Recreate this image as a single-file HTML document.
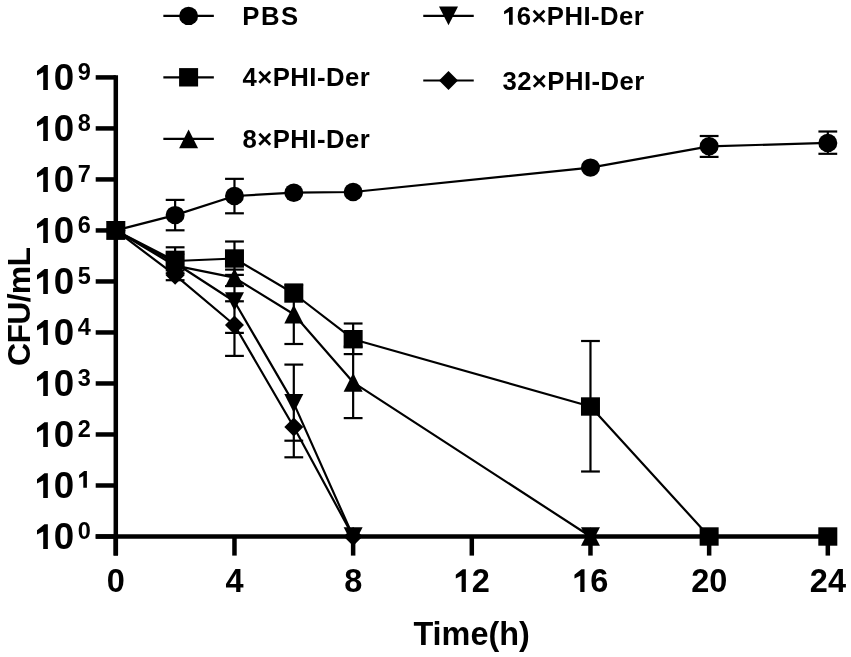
<!DOCTYPE html>
<html><head><meta charset="utf-8"><style>
html,body{margin:0;padding:0;background:#fff;}
svg{display:block;will-change:transform;}
text{font-family:"Liberation Sans",sans-serif;font-weight:bold;}
</style></head><body>
<svg width="851" height="657" viewBox="0 0 851 657">
<rect width="851" height="657" fill="#fff"/>
<g>
<line x1="175.13" y1="199.9" x2="175.13" y2="230.3" stroke="#000" stroke-width="2.2"/>
<line x1="165.73" y1="199.9" x2="184.53" y2="199.9" stroke="#000" stroke-width="2.2"/>
<line x1="165.73" y1="230.3" x2="184.53" y2="230.3" stroke="#000" stroke-width="2.2"/>
<line x1="234.47" y1="178.85" x2="234.47" y2="213.3" stroke="#000" stroke-width="2.2"/>
<line x1="225.07" y1="178.85" x2="243.87" y2="178.85" stroke="#000" stroke-width="2.2"/>
<line x1="225.07" y1="213.3" x2="243.87" y2="213.3" stroke="#000" stroke-width="2.2"/>
<line x1="709.14" y1="136" x2="709.14" y2="156.9" stroke="#000" stroke-width="2.2"/>
<line x1="699.74" y1="136" x2="718.54" y2="136" stroke="#000" stroke-width="2.2"/>
<line x1="699.74" y1="156.9" x2="718.54" y2="156.9" stroke="#000" stroke-width="2.2"/>
<line x1="827.81" y1="131.5" x2="827.81" y2="153.8" stroke="#000" stroke-width="2.2"/>
<line x1="818.41" y1="131.5" x2="837.21" y2="131.5" stroke="#000" stroke-width="2.2"/>
<line x1="818.41" y1="153.8" x2="837.21" y2="153.8" stroke="#000" stroke-width="2.2"/>
<line x1="175.13" y1="247.3" x2="175.13" y2="280.2" stroke="#000" stroke-width="2.2"/>
<line x1="165.73" y1="247.3" x2="184.53" y2="247.3" stroke="#000" stroke-width="2.2"/>
<line x1="165.73" y1="280.2" x2="184.53" y2="280.2" stroke="#000" stroke-width="2.2"/>
<line x1="165.73" y1="270.4" x2="184.53" y2="270.4" stroke="#000" stroke-width="2.2"/>
<line x1="165.73" y1="273.4" x2="184.53" y2="273.4" stroke="#000" stroke-width="2.2"/>
<line x1="234.47" y1="241.5" x2="234.47" y2="355.9" stroke="#000" stroke-width="2.2"/>
<line x1="225.07" y1="241.5" x2="243.87" y2="241.5" stroke="#000" stroke-width="2.2"/>
<line x1="225.07" y1="355.9" x2="243.87" y2="355.9" stroke="#000" stroke-width="2.2"/>
<line x1="225.07" y1="269.6" x2="243.87" y2="269.6" stroke="#000" stroke-width="2.2"/>
<line x1="225.07" y1="274.9" x2="243.87" y2="274.9" stroke="#000" stroke-width="2.2"/>
<line x1="225.07" y1="286.1" x2="243.87" y2="286.1" stroke="#000" stroke-width="2.2"/>
<line x1="225.07" y1="301.3" x2="243.87" y2="301.3" stroke="#000" stroke-width="2.2"/>
<line x1="225.07" y1="332.9" x2="243.87" y2="332.9" stroke="#000" stroke-width="2.2"/>
<line x1="293.8" y1="284.5" x2="293.8" y2="344" stroke="#000" stroke-width="2.2"/>
<line x1="284.4" y1="284.5" x2="303.2" y2="284.5" stroke="#000" stroke-width="2.2"/>
<line x1="284.4" y1="344" x2="303.2" y2="344" stroke="#000" stroke-width="2.2"/>
<line x1="293.8" y1="364.6" x2="293.8" y2="457.3" stroke="#000" stroke-width="2.2"/>
<line x1="284.4" y1="364.6" x2="303.2" y2="364.6" stroke="#000" stroke-width="2.2"/>
<line x1="284.4" y1="457.3" x2="303.2" y2="457.3" stroke="#000" stroke-width="2.2"/>
<line x1="284.4" y1="440.7" x2="303.2" y2="440.7" stroke="#000" stroke-width="2.2"/>
<line x1="353.14" y1="323.5" x2="353.14" y2="354.1" stroke="#000" stroke-width="2.2"/>
<line x1="343.74" y1="323.5" x2="362.54" y2="323.5" stroke="#000" stroke-width="2.2"/>
<line x1="343.74" y1="354.1" x2="362.54" y2="354.1" stroke="#000" stroke-width="2.2"/>
<line x1="353.14" y1="346.6" x2="353.14" y2="418.1" stroke="#000" stroke-width="2.2"/>
<line x1="343.74" y1="346.6" x2="362.54" y2="346.6" stroke="#000" stroke-width="2.2"/>
<line x1="343.74" y1="418.1" x2="362.54" y2="418.1" stroke="#000" stroke-width="2.2"/>
<line x1="590.47" y1="341" x2="590.47" y2="471.5" stroke="#000" stroke-width="2.2"/>
<line x1="581.07" y1="341" x2="599.87" y2="341" stroke="#000" stroke-width="2.2"/>
<line x1="581.07" y1="471.5" x2="599.87" y2="471.5" stroke="#000" stroke-width="2.2"/>
<polyline points="115.8,230.4 175.13,215.1 234.47,196 293.8,192.7 353.14,192 590.47,167.6 709.14,146.3 827.81,142.9" fill="none" stroke="#000" stroke-width="2.2" stroke-linejoin="round"/>
<polyline points="115.8,230.4 175.13,265.7 234.47,277.7 293.8,314.2 353.14,382.3 590.47,536.5" fill="none" stroke="#000" stroke-width="2.2" stroke-linejoin="round"/>
<polyline points="115.8,230.4 175.13,275.2 234.47,325 293.8,427 353.14,536.5" fill="none" stroke="#000" stroke-width="2.2" stroke-linejoin="round"/>
<polyline points="115.8,230.4 175.13,263 234.47,301.5 293.8,403.4 353.14,536.5 590.47,536.5" fill="none" stroke="#000" stroke-width="2.2" stroke-linejoin="round"/>
<polyline points="115.8,230.4 175.13,261 234.47,258.5 293.8,293.5 353.14,339.2 590.47,406.5 709.14,536.5 827.81,536.5" fill="none" stroke="#000" stroke-width="2.2" stroke-linejoin="round"/>
</g>
<path d="M115.8 75.16V555.6" stroke="#000" stroke-width="4.5" fill="none"/>
<path d="M95.7 536.5H830.06" stroke="#000" stroke-width="4.5" fill="none"/>
<path d="M95.7 536.5H115.8" stroke="#000" stroke-width="4.5"/>
<path d="M95.7 485.49H115.8" stroke="#000" stroke-width="4.5"/>
<path d="M95.7 434.48H115.8" stroke="#000" stroke-width="4.5"/>
<path d="M95.7 383.47H115.8" stroke="#000" stroke-width="4.5"/>
<path d="M95.7 332.46H115.8" stroke="#000" stroke-width="4.5"/>
<path d="M95.7 281.45H115.8" stroke="#000" stroke-width="4.5"/>
<path d="M95.7 230.44H115.8" stroke="#000" stroke-width="4.5"/>
<path d="M95.7 179.43H115.8" stroke="#000" stroke-width="4.5"/>
<path d="M95.7 128.42H115.8" stroke="#000" stroke-width="4.5"/>
<path d="M95.7 77.41H115.8" stroke="#000" stroke-width="4.5"/>
<path d="M115.8 536.5V555.6" stroke="#000" stroke-width="4.5"/>
<path d="M234.47 536.5V555.6" stroke="#000" stroke-width="4.5"/>
<path d="M353.14 536.5V555.6" stroke="#000" stroke-width="4.5"/>
<path d="M471.8 536.5V555.6" stroke="#000" stroke-width="4.5"/>
<path d="M590.47 536.5V555.6" stroke="#000" stroke-width="4.5"/>
<path d="M709.14 536.5V555.6" stroke="#000" stroke-width="4.5"/>
<path d="M827.81 536.5V555.6" stroke="#000" stroke-width="4.5"/>
<g fill="#000">
<ellipse cx="115.8" cy="230.4" rx="9.5" ry="9.2"/>
<ellipse cx="175.13" cy="215.1" rx="9.5" ry="9.2"/>
<ellipse cx="234.47" cy="196" rx="9.5" ry="9.2"/>
<ellipse cx="293.8" cy="192.7" rx="9.5" ry="9.2"/>
<ellipse cx="353.14" cy="192" rx="9.5" ry="9.2"/>
<ellipse cx="590.47" cy="167.6" rx="9.5" ry="9.2"/>
<ellipse cx="709.14" cy="146.3" rx="9.5" ry="9.2"/>
<ellipse cx="827.81" cy="142.9" rx="9.5" ry="9.2"/>
<path d="M115.8 220.9L125.3 230.4L115.8 239.9L106.3 230.4Z"/>
<path d="M175.13 265.7L184.63 275.2L175.13 284.7L165.63 275.2Z"/>
<path d="M234.47 315.5L243.97 325L234.47 334.5L224.97 325Z"/>
<path d="M293.8 417.5L303.3 427L293.8 436.5L284.3 427Z"/>
<path d="M353.14 527L362.64 536.5L353.14 546L343.64 536.5Z"/>
<path d="M115.8 221.05L125.3 239.75L106.3 239.75Z"/>
<path d="M175.13 255.65L184.63 274.35L165.63 274.35Z"/>
<path d="M234.47 268.35L243.97 287.05L224.97 287.05Z"/>
<path d="M293.8 304.85L303.3 323.55L284.3 323.55Z"/>
<path d="M353.14 372.95L362.64 391.65L343.64 391.65Z"/>
<path d="M590.47 527.15L599.97 545.85L580.97 545.85Z"/>
<path d="M106.3 221.05L125.3 221.05L115.8 239.75Z"/>
<path d="M165.63 253.65L184.63 253.65L175.13 272.35Z"/>
<path d="M224.97 292.15L243.97 292.15L234.47 310.85Z"/>
<path d="M284.3 394.05L303.3 394.05L293.8 412.75Z"/>
<path d="M343.64 527.15L362.64 527.15L353.14 545.85Z"/>
<path d="M580.97 527.15L599.97 527.15L590.47 545.85Z"/>
<rect x="106.3" y="221.2" width="19" height="18.4"/>
<rect x="165.63" y="250.7" width="19" height="18.4"/>
<rect x="224.97" y="249.3" width="19" height="18.4"/>
<rect x="284.3" y="284.3" width="19" height="18.4"/>
<rect x="343.64" y="330" width="19" height="18.4"/>
<rect x="580.97" y="397.3" width="19" height="18.4"/>
<rect x="699.64" y="527.3" width="19" height="18.4"/>
<rect x="818.31" y="527.3" width="19" height="18.4"/>
</g>
<g fill="#000">
<path d="M44.45 524.15L47.85 524.15L47.85 549.1L43.2 549.1L43.2 531.39L37 534.5L37 530.14Z"/>
<text x="53.8" y="549.3" font-size="36.7" font-family="Liberation Sans, sans-serif" font-weight="bold">0</text>
<text x="77.8" y="538.6" font-size="23.5" font-family="Liberation Sans, sans-serif" font-weight="bold">0</text>
<path d="M44.45 473.14L47.85 473.14L47.85 498.09L43.2 498.09L43.2 480.38L37 483.49L37 479.13Z"/>
<text x="53.8" y="498.29" font-size="36.7" font-family="Liberation Sans, sans-serif" font-weight="bold">0</text>
<path d="M84.13 471.09L86.9 471.09L86.9 487.79L83.3 487.79L83.3 475.93L79.1 478.02L79.1 475.1Z"/>
<path d="M44.45 422.13L47.85 422.13L47.85 447.08L43.2 447.08L43.2 429.37L37 432.48L37 428.12Z"/>
<text x="53.8" y="447.28" font-size="36.7" font-family="Liberation Sans, sans-serif" font-weight="bold">0</text>
<text x="77.8" y="436.58" font-size="23.5" font-family="Liberation Sans, sans-serif" font-weight="bold">2</text>
<path d="M44.45 371.12L47.85 371.12L47.85 396.07L43.2 396.07L43.2 378.36L37 381.47L37 377.11Z"/>
<text x="53.8" y="396.27" font-size="36.7" font-family="Liberation Sans, sans-serif" font-weight="bold">0</text>
<text x="77.8" y="385.57" font-size="23.5" font-family="Liberation Sans, sans-serif" font-weight="bold">3</text>
<path d="M44.45 320.11L47.85 320.11L47.85 345.06L43.2 345.06L43.2 327.35L37 330.46L37 326.1Z"/>
<text x="53.8" y="345.26" font-size="36.7" font-family="Liberation Sans, sans-serif" font-weight="bold">0</text>
<text x="77.8" y="334.56" font-size="23.5" font-family="Liberation Sans, sans-serif" font-weight="bold">4</text>
<path d="M44.45 269.1L47.85 269.1L47.85 294.05L43.2 294.05L43.2 276.34L37 279.45L37 275.09Z"/>
<text x="53.8" y="294.25" font-size="36.7" font-family="Liberation Sans, sans-serif" font-weight="bold">0</text>
<text x="77.8" y="283.55" font-size="23.5" font-family="Liberation Sans, sans-serif" font-weight="bold">5</text>
<path d="M44.45 218.09L47.85 218.09L47.85 243.04L43.2 243.04L43.2 225.33L37 228.44L37 224.08Z"/>
<text x="53.8" y="243.24" font-size="36.7" font-family="Liberation Sans, sans-serif" font-weight="bold">0</text>
<text x="77.8" y="232.54" font-size="23.5" font-family="Liberation Sans, sans-serif" font-weight="bold">6</text>
<path d="M44.45 167.08L47.85 167.08L47.85 192.03L43.2 192.03L43.2 174.32L37 177.43L37 173.07Z"/>
<text x="53.8" y="192.23" font-size="36.7" font-family="Liberation Sans, sans-serif" font-weight="bold">0</text>
<text x="77.8" y="181.53" font-size="23.5" font-family="Liberation Sans, sans-serif" font-weight="bold">7</text>
<path d="M44.45 116.07L47.85 116.07L47.85 141.02L43.2 141.02L43.2 123.31L37 126.42L37 122.06Z"/>
<text x="53.8" y="141.22" font-size="36.7" font-family="Liberation Sans, sans-serif" font-weight="bold">0</text>
<text x="77.8" y="130.52" font-size="23.5" font-family="Liberation Sans, sans-serif" font-weight="bold">8</text>
<path d="M44.45 65.06L47.85 65.06L47.85 90.01L43.2 90.01L43.2 72.3L37 75.41L37 71.05Z"/>
<text x="53.8" y="90.21" font-size="36.7" font-family="Liberation Sans, sans-serif" font-weight="bold">0</text>
<text x="77.8" y="79.51" font-size="23.5" font-family="Liberation Sans, sans-serif" font-weight="bold">9</text>
<text x="115.9" y="591.9" font-size="32.5" text-anchor="middle" font-family="Liberation Sans, sans-serif" font-weight="bold">0</text>
<text x="234.57" y="591.9" font-size="32.5" text-anchor="middle" font-family="Liberation Sans, sans-serif" font-weight="bold">4</text>
<text x="353.24" y="591.9" font-size="32.5" text-anchor="middle" font-family="Liberation Sans, sans-serif" font-weight="bold">8</text>
<path d="M462.74 569.2L465.85 569.2L465.85 591.9L461.6 591.9L461.6 575.78L455.8 578.62L455.8 574.65Z"/>
<text x="471.7" y="591.9" font-size="32.5" font-family="Liberation Sans, sans-serif" font-weight="bold">2</text>
<path d="M581.41 569.2L584.52 569.2L584.52 591.9L580.27 591.9L580.27 575.78L574.47 578.62L574.47 574.65Z"/>
<text x="590.37" y="591.9" font-size="32.5" font-family="Liberation Sans, sans-serif" font-weight="bold">6</text>
<text x="709.24" y="591.9" font-size="32.5" text-anchor="middle" font-family="Liberation Sans, sans-serif" font-weight="bold">20</text>
<text x="827.91" y="591.9" font-size="32.5" text-anchor="middle" font-family="Liberation Sans, sans-serif" font-weight="bold">24</text>
</g>
<text x="471.6" y="644.5" font-size="32.4" text-anchor="middle" font-family="Liberation Sans, sans-serif" font-weight="bold">Time(h)</text>
<text transform="translate(30,306.8) rotate(-90)" x="0" y="0" font-size="32" letter-spacing="-0.7" text-anchor="middle" font-family="Liberation Sans, sans-serif" font-weight="bold">CFU/mL</text>
<g fill="#000">
<line x1="163.35" y1="15.9" x2="213.85" y2="15.9" stroke="#000" stroke-width="2.2"/>
<ellipse cx="188.6" cy="15.9" rx="9.5" ry="9.2"/>
<text x="242.2" y="24.9" font-size="25.7" letter-spacing="1.6" font-family="Liberation Sans, sans-serif" font-weight="bold">PBS</text>
<line x1="163.35" y1="77.3" x2="213.85" y2="77.3" stroke="#000" stroke-width="2.2"/>
<rect x="179.1" y="68.1" width="19" height="18.4"/>
<text x="242.6" y="86.3" font-size="25.7" letter-spacing="0.45" font-family="Liberation Sans, sans-serif" font-weight="bold">4×PHI-Der</text>
<line x1="163.35" y1="138.9" x2="213.85" y2="138.9" stroke="#000" stroke-width="2.2"/>
<path d="M188.6 129.55L198.1 148.25L179.1 148.25Z"/>
<text x="242.6" y="147.9" font-size="25.7" letter-spacing="0.45" font-family="Liberation Sans, sans-serif" font-weight="bold">8×PHI-Der</text>
<line x1="423.25" y1="15.9" x2="473.75" y2="15.9" stroke="#000" stroke-width="2.2"/>
<path d="M439 6.55L458 6.55L448.5 25.25Z"/>
<path d="M509.89 6.9L512.7 6.9L512.7 24.8L509 24.8L509 12.09L504.1 14.33L504.1 11.2Z"/>
<text x="516.7" y="24.9" font-size="25.7" letter-spacing="0.45" font-family="Liberation Sans, sans-serif" font-weight="bold">6×PHI-Der</text>
<line x1="423.25" y1="80.5" x2="473.75" y2="80.5" stroke="#000" stroke-width="2.2"/>
<path d="M448.5 71L458 80.5L448.5 90L439 80.5Z"/>
<text x="502.4" y="89.5" font-size="25.7" letter-spacing="0.45" font-family="Liberation Sans, sans-serif" font-weight="bold">32×PHI-Der</text>
</g>
</svg>
</body></html>
